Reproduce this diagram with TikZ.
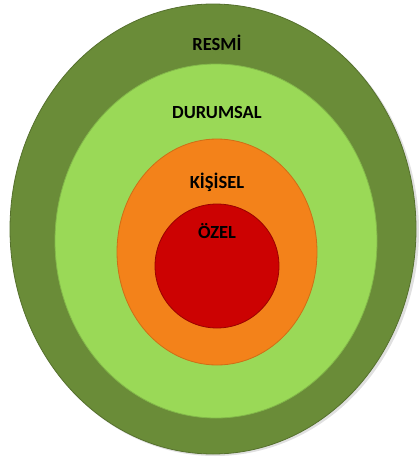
\documentclass[tikz,border=0pt]{standalone}
\usepackage{fontspec}
\setmainfont{Carlito}
\definecolor{resmigreen}{HTML}{6A8C38}
\definecolor{durumgreen}{HTML}{9AD957}
\definecolor{kisiorange}{HTML}{F3821A}
\definecolor{ozelred}{HTML}{CC0202}
\tikzset{
  ring/.style={line width=0.8pt},
  lbl/.style={font=\fontsize{18.5}{20}\selectfont\bfseries, text=black}
}

\begin{document}
\begin{tikzpicture}[x=1pt,y=-1pt]
        \useasboundingbox (0,0) rectangle (418,458);
        \fill[black!12] (215,231) ellipse [x radius=204, y radius=225];
        \draw[ring, fill=resmigreen, draw=resmigreen!80!black] (213,229) ellipse [x radius=203, y radius=225];
        \draw[ring, fill=durumgreen, draw=durumgreen!85!black] (216,241) ellipse [x radius=161, y radius=177];
        \draw[ring, fill=kisiorange, draw=kisiorange!85!black] (217,252) ellipse [x radius=100, y radius=113];
        \draw[ring, fill=ozelred, draw=ozelred!75!black] (217,266) circle [radius=62];
        \node[lbl] (resmi) at (217,43) {RESMİ};
        \node[lbl] (durumsal) at (217,112) {DURUMSAL};
        \node[lbl] (kisisel) at (217,182) {KİŞİSEL};
        \node[lbl] (ozel) at (217,231) {ÖZEL};
    \end{tikzpicture}
\end{document}
